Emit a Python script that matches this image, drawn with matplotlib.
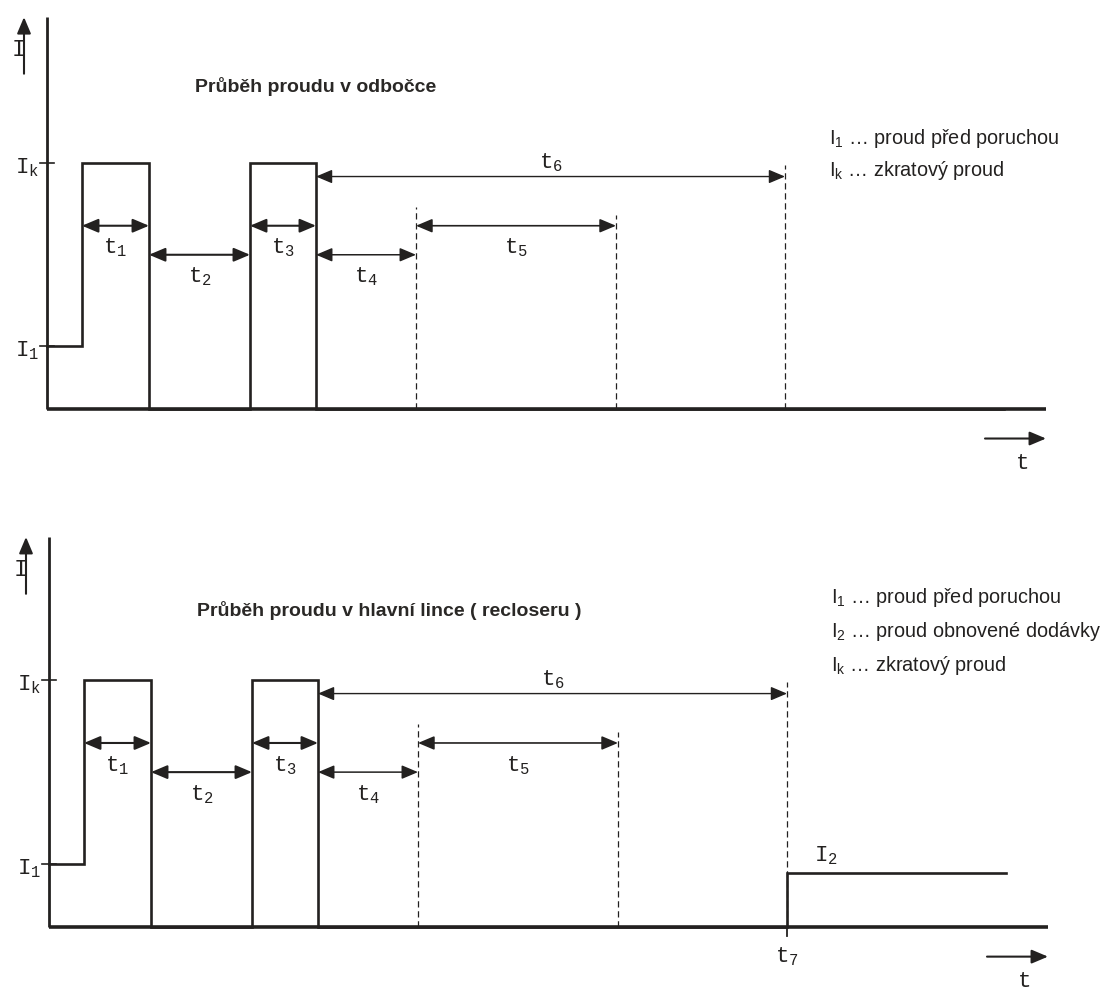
import matplotlib.pyplot as plt

plt.rcParams['mathtext.fontset'] = 'custom'
plt.rcParams['mathtext.rm'] = 'Liberation Mono'
plt.rcParams['mathtext.sf'] = 'Liberation Sans'

INK = '#232120'
MONO = 'Liberation Mono'
SANS = 'Liberation Sans'

# current levels (relative to Ik)
I_1 = 0.255
I_k = 1.0
I_2 = 0.22

# switching instants (arbitrary time units), same in both panels
rise_1, fall_1 = 3.5, 10.2
rise_2, fall_2 = 20.3, 26.9
end_t4, end_t5 = 36.9, 56.9
t_7 = 73.8
t_stop = 95.7
t_axis = 99.9

# dimension arrows: label index, start, end, level, line width
span_labels = ['1', '2', '3', '4', '5', '6']
span_start = [rise_1, fall_1, rise_2, fall_2, end_t4, fall_2]
span_end = [fall_1, rise_2, fall_2, end_t4, end_t5, t_7]
span_level = [0.745, 0.627, 0.745, 0.627, 0.745, 0.945]
span_lw = [1.5, 1.5, 1.5, 1.1, 1.2, 1.0]

# dashed markers: time, top
dash_times = [end_t4, end_t5, t_7]
dash_tops = [0.82, 0.79, 0.99]

titles = ['Průběh proudu v odbočce', 'Průběh proudu v hlavní lince ( recloseru )']
legend_top = [(r'$\mathsf{I}_\mathsf{1}$', 'proud před poruchou'),
              (r'$\mathsf{I}_\mathsf{k}$', 'zkratový proud')]
legend_bottom = [(r'$\mathsf{I}_\mathsf{1}$', 'proud před poruchou'),
                 (r'$\mathsf{I}_\mathsf{2}$', 'proud obnovené dodávky'),
                 (r'$\mathsf{I}_\mathsf{k}$', 'zkratový proud')]


def arrow(ax, x0, y0, x1, y1, style='-|>', lw=1.3):
    ax.annotate('', xy=(x1, y1), xytext=(x0, y0),
                arrowprops=dict(arrowstyle=style + ',head_length=0.9,head_width=0.38',
                                mutation_scale=11, lw=lw, color=INK,
                                shrinkA=0, shrinkB=0))


def sub(base, idx):
    return r'$\mathrm{%s}_\mathrm{%s}$' % (base, idx)


def draw_panel(ax, title, legend, y_top, restore):
    ax.set_axis_off()

    # axes
    ax.plot([0, 0], [0, y_top], color=INK, lw=2.0, solid_capstyle='butt')
    ax.plot([0, t_axis], [0, 0], color=INK, lw=2.6, solid_capstyle='butt')
    arrow(ax, -2.3, y_top - 0.23, -2.3, y_top, lw=1.5)
    ax.text(-2.8, y_top - 0.13, 'I', family=MONO, fontsize=17,
            ha='center', va='center', color=INK)
    arrow(ax, 93.8, -0.12, t_axis, -0.12, lw=1.5)
    ax.text(97.6, -0.22, 't', family=MONO, fontsize=16,
            ha='center', va='center', color=INK)

    # level ticks
    for lev, idx in [(I_k, 'k'), (I_1, '1')]:
        ax.plot([-0.7, 0.7], [lev, lev], color=INK, lw=1.2)
        ax.text(-0.8, lev - 0.02, sub('I', idx), fontsize=16,
                ha='right', va='center', color=INK)

    # waveform
    xs = [0, rise_1, rise_1, fall_1, fall_1, rise_2, rise_2, fall_2, fall_2]
    ys = [I_1, I_1, I_k, I_k, 0, 0, I_k, I_k, 0]
    if restore:
        xs += [t_7, t_7, t_stop]
        ys += [0, I_2, I_2]
    else:
        xs += [t_stop]
        ys += [0]
    ax.plot(xs, ys, color=INK, lw=1.9, solid_joinstyle='miter')

    # dashed markers
    for t, top in zip(dash_times, dash_tops):
        ax.plot([t, t], [0, top], color=INK, lw=0.9, ls=(0, (5, 3)))

    # dimension arrows
    for idx, a, b, lev, lw in zip(span_labels, span_start, span_end, span_level, span_lw):
        arrow(ax, a, lev, b, lev, style='<|-|>', lw=lw)
        dy = 0.055 if idx == '6' else -0.09
        ax.text((a + b) / 2, lev + dy, sub('t', idx), fontsize=16,
                ha='center', va='center', color=INK)

    if restore:
        ax.plot([t_7, t_7], [0, -0.035], color=INK, lw=1.3)
        ax.text(t_7, -0.12, sub('t', '7'), fontsize=16,
                ha='center', va='center', color=INK)
        ax.text(77.7, I_2 + 0.07, sub('I', '2'), fontsize=16,
                ha='center', va='center', color=INK)

    # title
    ax.text(14.8, 1.31 if not restore else 1.283, title, family=SANS, fontsize=14,
            fontweight='bold', ha='left', va='center', color='#2a2826')

    # legend
    lx = 78.2
    ly = 1.10 if not restore else 1.336
    step = 0.13 if not restore else 0.138
    for i, (sym, desc) in enumerate(legend):
        ax.text(lx, ly - i * step, sym + ' … ' + desc, family=SANS, fontsize=14.3,
                ha='left', va='center', color=INK)


fig = plt.figure(figsize=(11.08, 9.92), dpi=100)
ax_top = fig.add_axes([0, 512 / 992, 1, 480 / 992])
ax_top.set_xlim(-4.7, 106.1)
ax_top.set_ylim(-0.2886, 1.6626)
ax_bot = fig.add_axes([0, 0, 1, 512 / 992])
ax_bot.set_xlim(-4.9, 105.9)
ax_bot.set_ylim(-0.2632, 1.8097)

draw_panel(ax_top, titles[0], legend_top, 1.593, restore=False)
draw_panel(ax_bot, titles[1], legend_bottom, 1.579, restore=True)

fig.savefig('out.png', dpi=100, facecolor='white')
